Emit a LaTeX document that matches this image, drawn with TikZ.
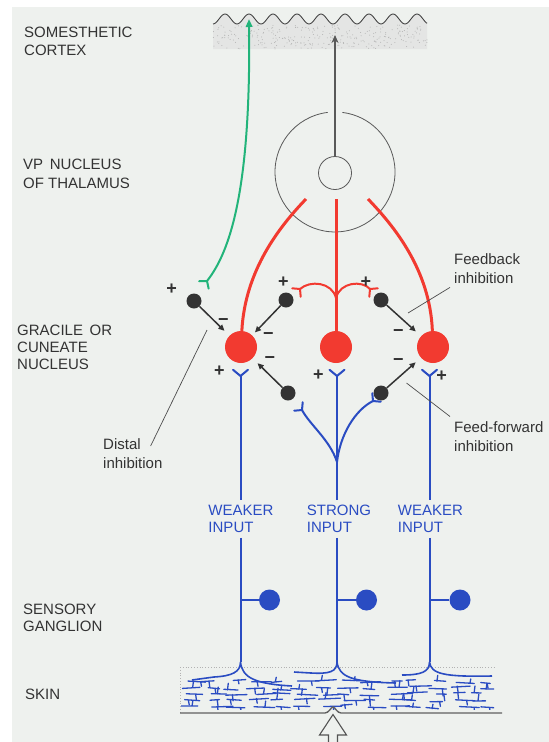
\documentclass[tikz,border=0pt]{standalone}
\usepackage{fontspec}
\setmainfont{Liberation Sans}
\usetikzlibrary{arrows.meta}

\definecolor{paper}{HTML}{EEF1EE}
\definecolor{relayred}{HTML}{F23A30}
\definecolor{fibreblue}{HTML}{2A4CC2}
\definecolor{lemgreen}{HTML}{22B47A}
\definecolor{cellgray}{HTML}{333333}
\definecolor{textgray}{HTML}{333333}
\definecolor{cortexfill}{HTML}{E4E5E4}

\tikzset{
  fork/.pic={\draw[line cap=round] (0,0) -- (5,6) (0,0) -- (5,-6);}
}

\begin{document}
\begin{tikzpicture}[
    x=1pt, y=-1pt,
    txt/.style={font=\fontsize{15}{17.5}\selectfont, text=textgray, align=left, inner sep=0},
    note/.style={txt, font=\fontsize{15}{19}\selectfont},
    inputtxt/.style={font=\fontsize{15}{16.7}\selectfont, text=fibreblue, align=left,
      fill=paper, inner xsep=1, inner ysep=5},
    sign/.style={font=\fontsize{18}{18}\selectfont\bfseries, text=cellgray, inner sep=0},
    relay/.style={circle, fill=relayred, minimum size=32, inner sep=0},
    inter/.style={circle, fill=cellgray, minimum size=15, inner sep=0},
    ganglion/.style={circle, fill=fibreblue, minimum size=21, inner sep=0},
    vpcell/.style={circle, draw=gray!70!black, line width=0.8, minimum size=33, inner sep=0},
    relayaxon/.style={relayred, line width=3},
    relaybranch/.style={relayred, line width=2},
    inhib/.style={cellgray, line width=1.5, -{Triangle[length=6,width=5.5]}, shorten >=7},
    fibre/.style={fibreblue, line width=2},
    twig/.style={fibreblue, line width=1.3, line cap=round},
    lemniscal/.style={lemgreen, line width=2},
    pointer/.style={gray!60!black, line width=0.7},
    thal/.style={gray!70!black, line width=0.8}
  ]
    \useasboundingbox (0,0) rectangle (549,742);
    \fill[paper] (12,7) rectangle (549,742);

    % cortex strip with a wavy surface
    \fill[cortexfill] plot[domain=213:427,samples=150] (\x,{19+5*cos(15*(\x-213))})
      -- (427,49) -- (213,49) -- cycle;
    \pgfmathsetseed{3}
    \foreach \k in {1,...,300}
      \fill[gray!60] ({213+214*rnd},{25+24*rnd}) circle (0.5);
    \draw[gray!55!black, line width=0.9]
      plot[domain=213:427,samples=150] (\x,{19+5*cos(15*(\x-213))});

    % region names
    \node[txt, anchor=north west] (ctx) at (24,27) {SOMESTHETIC\\CORTEX};
    \node[txt, anchor=north west, font=\fontsize{15}{19}\selectfont] (vpl) at (23,159) {VP\, NUCLEUS\\OF THALAMUS};
    \node[txt, anchor=north west, font=\fontsize{15}{17}\selectfont] (dcn) at (17,325) {GRACILE\, OR\\CUNEATE\\NUCLEUS};
    \node[txt, anchor=north west, font=\fontsize{15}{16.7}\selectfont] (drg) at (23,604) {SENSORY\\GANGLION};
    \node[txt, anchor=north west] (skn) at (25,689) {SKIN};

    % thalamus
    \draw[thal] (327.7,112.4) arc[start angle=-97, end angle=-443, radius=60];
    \node[vpcell] (vp) at (335,173) {};
    \coordinate (ctxend) at (335,35);
    \draw[thal, line width=1.1, -{Stealth[length=8,width=7]}] (vp) -- (ctxend);

    % cells of the dorsal column nucleus
    \node[relay] (r1) at (241,347) {};
    \node[relay] (r2) at (336,347) {};
    \node[relay] (r3) at (433,347) {};
    \node[inter] (iA) at (194,301) {};
    \node[inter] (iB) at (286,300) {};
    \node[inter] (iC) at (381,300) {};
    \node[inter] (iD) at (288,393) {};
    \node[inter] (iE) at (381,393) {};

    % relay axons to thalamus
    \coordinate (t1) at (306,199);
    \coordinate (t2) at (336,199);
    \coordinate (t3) at (368,199);
    \draw[relayaxon] (r1) .. controls (245,270) and (280,226) .. (t1);
    \draw[relayaxon] (r2) -- (t2);
    \draw[relayaxon] (r3) .. controls (430,270) and (394,226) .. (t3);

    % recurrent collaterals
    \coordinate (rb) at (336,298);
    \coordinate (fbL) at (300,289);
    \coordinate (fbR) at (370,289);
    \draw[relaybranch] (rb) .. controls (332,282) and (310,280) .. (fbL);
    \draw[relaybranch] (rb) .. controls (340,282) and (362,280) .. (fbR);
    \pic[relaybranch, rotate=225] at (fbL) {fork};
    \pic[relaybranch, rotate=-45] at (fbR) {fork};

    % descending cortical fibre
    \coordinate (gsyn) at (207,281);
    \coordinate (gtop) at (249,19);
    \draw[lemniscal, -{Triangle[length=8,width=6.5]}] (gsyn) .. controls (230,252) and (251,190) .. (gtop);
    \pic[lemniscal, rotate=232] at (gsyn) {fork};

    % inhibitory terminals
    \draw[inhib] (iA) -- (r1);
    \draw[inhib, shorten >=4] (iB) -- (r1);
    \draw[inhib] (iD) -- (r1);
    \draw[inhib] (iC) -- (r3);
    \draw[inhib] (iE) -- (r3);

    % signs
    \node[sign] (pA) at (171.7,289.3) {+};
    \node[sign] (mA) at (223.3,321.7) {−};
    \node[sign] (pB) at (283.3,282.3) {+};
    \node[sign] (mB) at (268.3,336) {−};
    \node[sign] (mD) at (270,360) {−};
    \node[sign] (p1) at (219.3,371.7) {+};
    \node[sign] (p2) at (318.3,375) {+};
    \node[sign] (pC) at (366,282.3) {+};
    \node[sign] (mC) at (398.3,333.3) {−};
    \node[sign] (mE) at (398.3,362.3) {−};
    \node[sign] (p3) at (441.7,376.7) {+};

    % primary afferents
    \coordinate (y1) at (240.5,376);
    \coordinate (y2) at (337,376);
    \coordinate (y3) at (429.5,376);
    \foreach \y in {y1,y2,y3}
      \pic[fibre, rotate=90, scale=1.25] at (\y) {fork};
    \node[inputtxt] (in1) at (241,519) {WEAKER\\INPUT};
    \node[inputtxt] (in2) at (339,519) {STRONG\\INPUT};
    \node[inputtxt] (in3) at (430.5,519) {WEAKER\\INPUT};
    \coordinate (s1) at (240.5,662);
    \coordinate (s2) at (337,662);
    \coordinate (s3) at (429.5,662);
    \coordinate (bf) at (337,462);
    \coordinate (bl) at (302,410);
    \coordinate (br) at (373,401);
    \draw[fibre] (y1) -- (y1 |- in1.north) (y1 |- in1.south) -- (s1);
    \draw[fibre] (y2) -- (y2 |- in2.north) (y2 |- in2.south) -- (s2);
    \draw[fibre] (y3) -- (y3 |- in3.north) (y3 |- in3.south) -- (s3);
    \draw[fibre] (bf) .. controls (330,440) and (310,425) .. (bl);
    \draw[fibre] (bf) .. controls (340,435) and (355,410) .. (br);
    \pic[fibre, rotate=135] at (bl) {fork};
    \pic[fibre, rotate=45] at (br) {fork};

    % ganglion cells
    \node[ganglion] (g1) at (269.5,600) {};
    \node[ganglion] (g2) at (366.5,600) {};
    \node[ganglion] (g3) at (460,600) {};
    \draw[fibre] (g1) -- (g1 -| s1);
    \draw[fibre] (g2) -- (g2 -| s2);
    \draw[fibre] (g3) -- (g3 -| s3);

    % skin and endings
    \draw[gray!60, dotted, line width=0.8] (180,667) -- (495,667) (180,667) -- (180,712);
    \draw[fibre, line width=1.6] (s1) .. controls (240.5,672) and (232,676) .. (214,677) -- (192,680)
      (s1) .. controls (242,678) and (256,684) .. (292,686);
    \draw[fibre, line width=1.6] (s2) .. controls (337,672) and (329,674) .. (311,673) -- (294,672)
      (s2) .. controls (339,677) and (352,682) .. (396,683);
    \draw[fibre, line width=1.6] (s3) .. controls (429.5,672) and (421,675) .. (402,675)
      (s3) .. controls (431,674) and (444,677) .. (492,676);
    \begin{scope}
      \clip (181,669) rectangle (494,709);
      \pgfmathsetseed{17}
      \foreach \row in {0,...,4}
        \foreach \k in {0,...,13}{
          \pgfmathsetmacro\tx{178+22.5*\k+12*rnd}
          \pgfmathsetmacro\ty{680+6.3*\row+3*rnd}
          \pgfmathsetmacro\tl{9+13*rnd}
          \pgfmathsetmacro\td{2.4*rnd-1.2}
          \pgfmathsetmacro\tv{(rnd<0.45 ? -1 : 1)*(4+3*rnd)}
          \pgfmathsetmacro\tf{0.2+0.6*rnd}
          \draw[twig] (\tx,\ty) -- ++(\tl,\td) ++({-\tf*\tl},0) -- ++(0.8,\tv);
        }
    \end{scope}
    \draw[gray!75!black, line width=1.4] (180,713) -- (325,713)
      .. controls (329,713) and (331,707) .. (333,707)
      .. controls (335,707) and (337,713) .. (341,713) -- (502,713);
    \draw[gray!65!black, line width=1.1, fill=paper] (328.5,743) -- (328.5,735) -- (319.5,735)
      -- (333,714.5) -- (346.5,735) -- (337.5,735) -- (337.5,743);

    % annotations
    \node[note, anchor=north west] (fbk) at (454,253) {Feedback\\inhibition};
    \node[note, anchor=north west] (ffw) at (454,421.5) {Feed-forward\\inhibition};
    \node[note, anchor=north west] (dst) at (103,438) {Distal\\inhibition};
    \coordinate (fbtip) at (408,313);
    \coordinate (fftip) at (406.5,383);
    \coordinate (dtip) at (207,330);
    \draw[pointer] ([shift={(-4,4)}]fbk.south west) -- (fbtip);
    \draw[pointer] ([shift={(-4,-5)}]ffw.north west) -- (fftip);
    \draw[pointer] ([shift={(-12,8)}]dst.north east) -- (dtip);
  \end{tikzpicture}
\end{document}
